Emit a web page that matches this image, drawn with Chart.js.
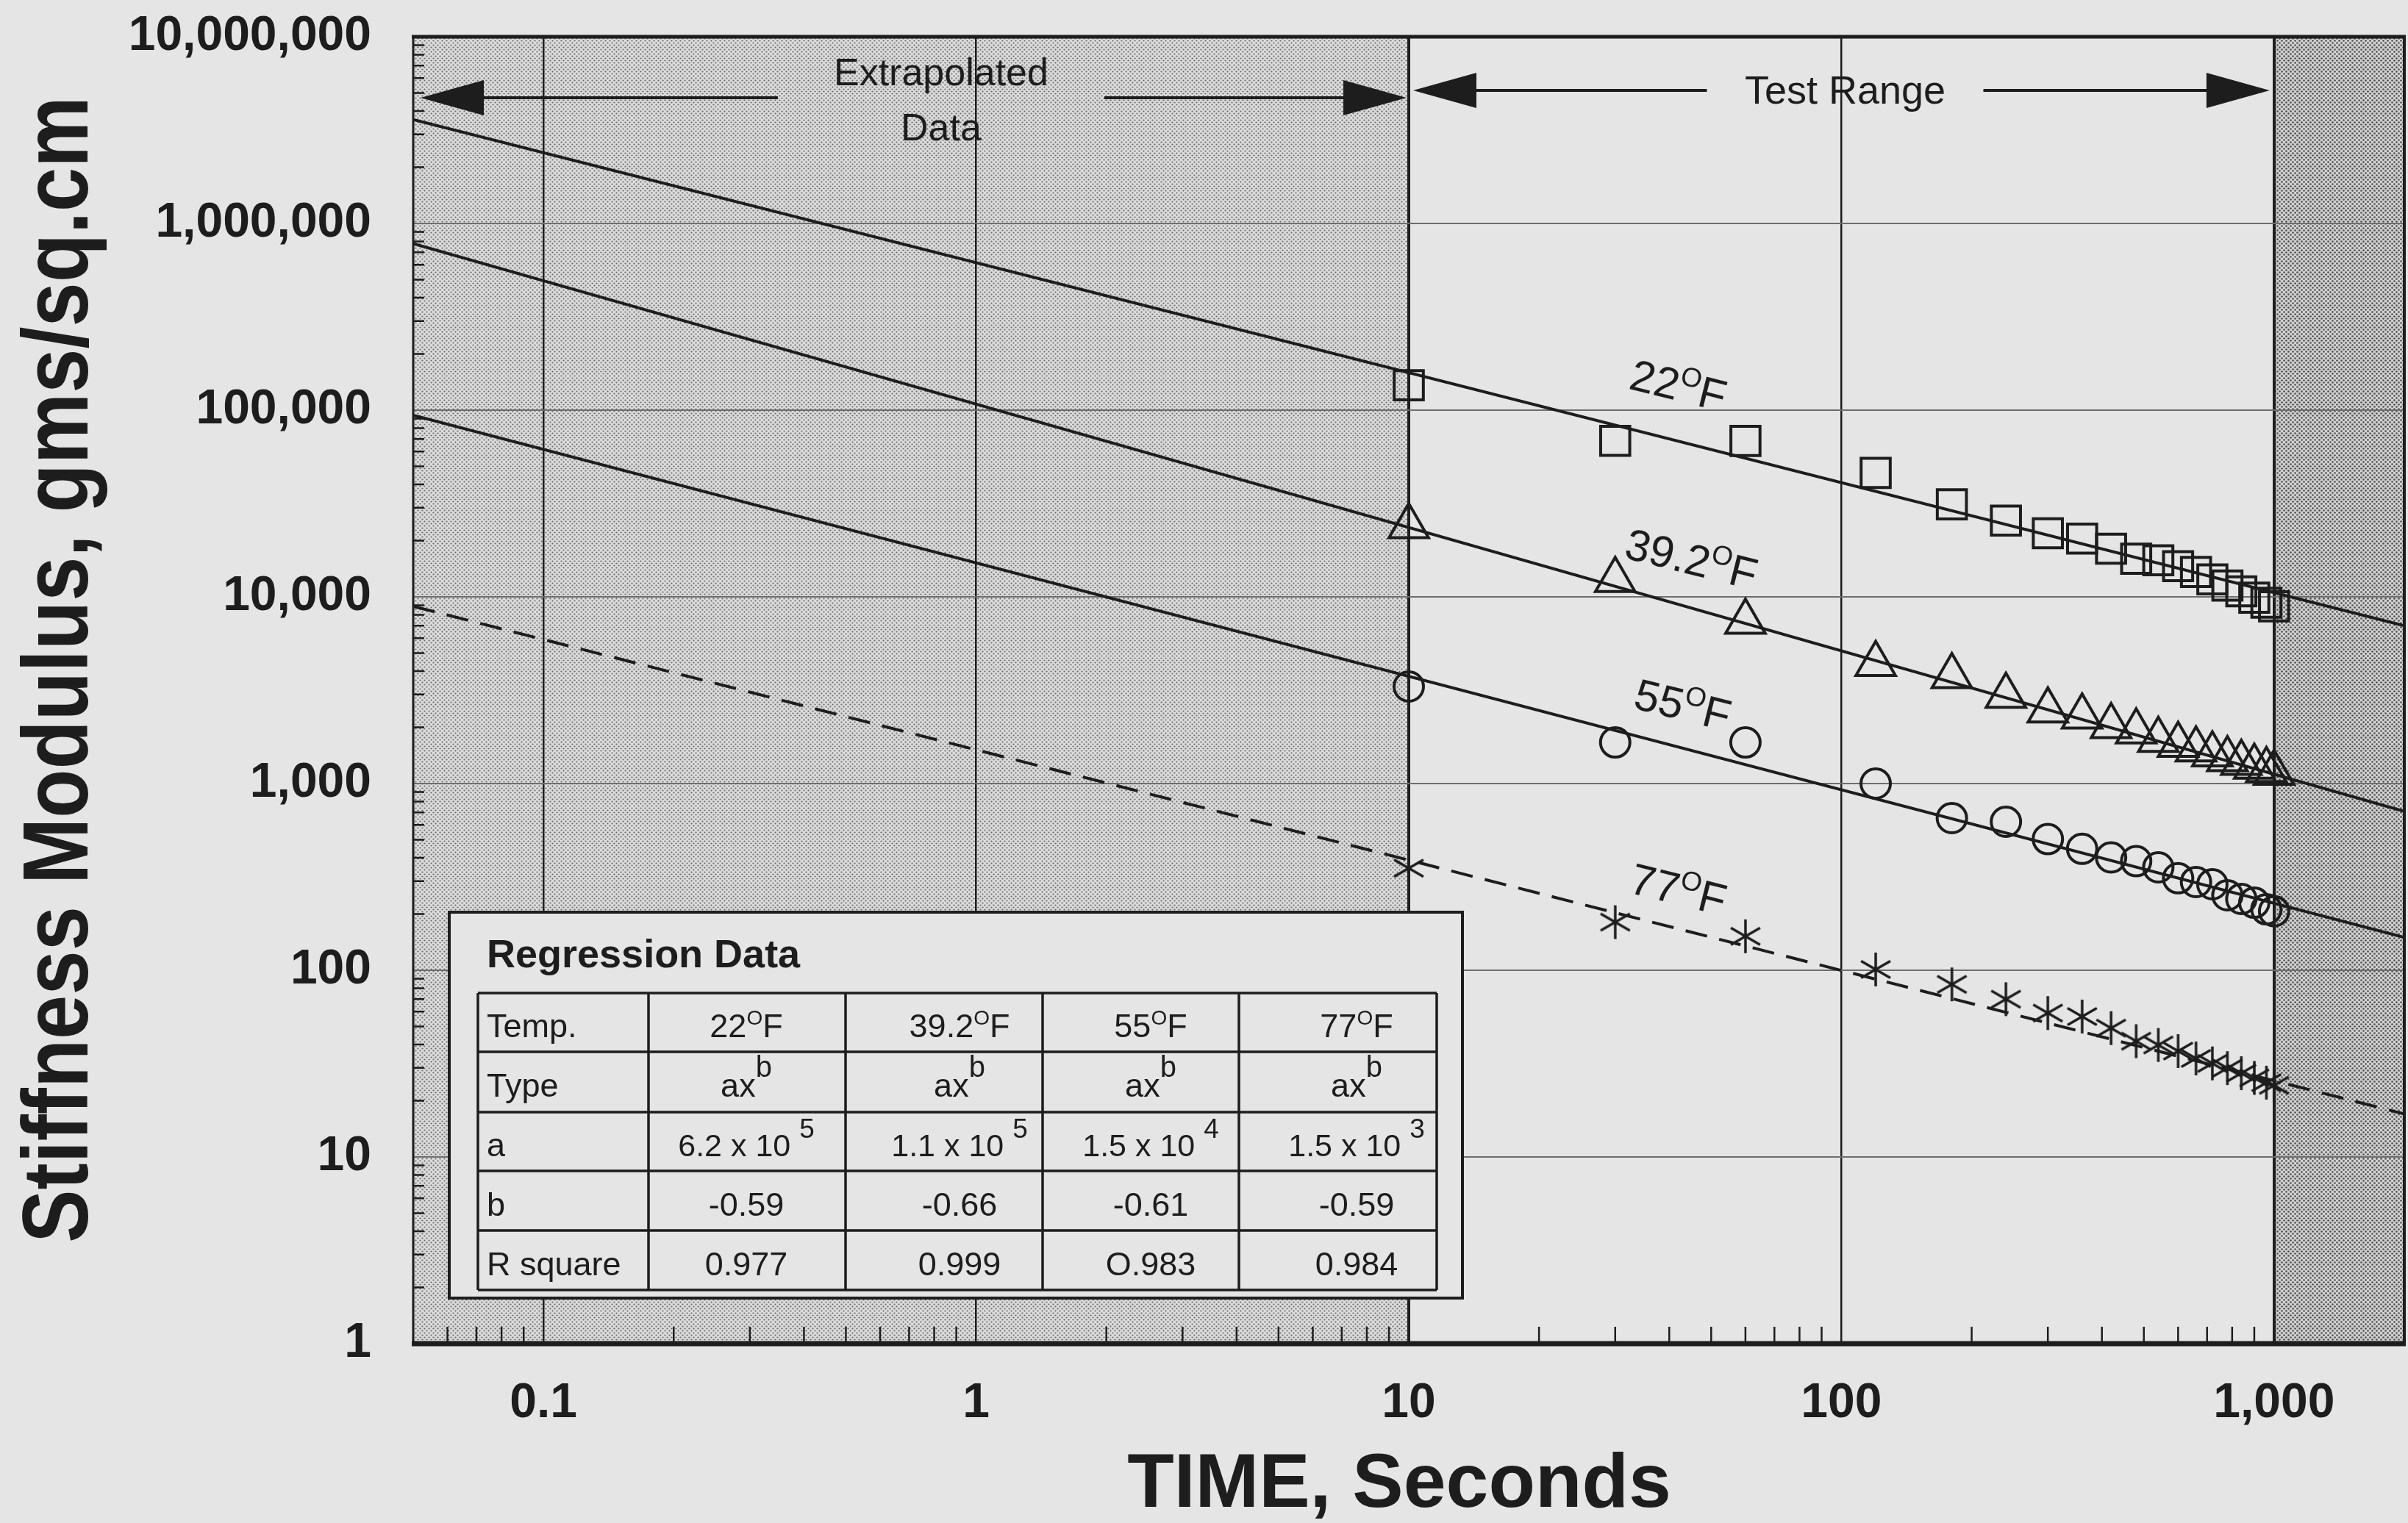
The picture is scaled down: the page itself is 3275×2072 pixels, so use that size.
<!DOCTYPE html>
<html>
<head>
<meta charset="utf-8">
<script src="https://cdn.jsdelivr.net/npm/chart.js@4.4.1/dist/chart.umd.min.js"></script>
<style>
  html, body { margin: 0; padding: 0; background: #e5e5e5; }
  #wrap { width: 3275px; height: 2072px; }
</style>
</head>
<body>
<div id="wrap"><canvas id="chart" width="3275" height="2072"></canvas></div>
<script>
// stiffness modulus vs time

const FONT = "'Liberation Sans', Arial, Helvetica, sans-serif";
const INK = '#1d1d1d';
const PAPER = '#e5e5e5';

// axes
const xTickVals = [0.1, 1, 10, 100, 1000];
const xTickLabels = ['0.1', '1', '10', '100', '1,000'];
const yTickVals = [1, 10, 100, 1000, 1e4, 1e5, 1e6, 1e7];
const yTickLabels = ['1', '10', '100', '1,000', '10,000', '100,000', '1,000,000', '10,000,000'];

// measured points (seconds, gms/sq.cm)
const times = [10, 30, 60, 120, 180, 240, 300, 360, 420, 480, 540, 600, 660, 720, 780, 840, 900, 960, 1000];
const s22 = [136000, 68500, 68400, 46100, 31300, 25600, 21900, 20500, 18100, 16000, 15700, 14600, 13600, 12400, 11500, 10700, 9900, 9300, 8900];
const s39 = [23900, 12300, 7340, 4360, 3760, 2950, 2460, 2280, 2030, 1900, 1710, 1610, 1520, 1430, 1350, 1290, 1230, 1180, 1140];
const s55 = [3310, 1660, 1660, 1000, 653, 624, 504, 447, 402, 384, 356, 311, 297, 289, 252, 241, 230, 212, 207];
const s77 = [352, 181, 152, 101, 84, 70, 59, 56.5, 49, 41.7, 39.8, 36.9, 33.7, 31.7, 29.9, 28.1, 26.5, 25.0, 24.2];

// regression lines, end values read at the plot edges
const fitX = [0.05, 2000];
const fit22 = [3.6e6, 7.0e3];
const fit39 = [7.8e5, 710];
const fit55 = [9.4e4, 150];
const fit77 = [8.9e3, 17];

// regression table
const tempLabels = ['22', '39.2', '55', '77'];
const regA = ['6.2', '1.1', '1.5', '1.5'];
const regAExp = ['5', '5', '4', '3'];
const regB = ['-0.59', '-0.66', '-0.61', '-0.59'];
const regR2 = ['0.977', '0.999', 'O.983', '0.984'];

const pts = (xs, ys) => xs.map((x, i) => ({ x, y: ys[i] }));

// 6-ray asterisk marker
function asteriskMarker(r, lw) {
  const c = document.createElement('canvas');
  c.width = c.height = 2 * r + 4;
  const g = c.getContext('2d');
  g.strokeStyle = INK; g.lineWidth = lw; g.lineCap = 'butt';
  const cx = r + 2, cy = r + 2;
  for (let k = 0; k < 3; k++) {
    const a = Math.PI / 2 + k * Math.PI / 3;
    g.beginPath();
    g.moveTo(cx + Math.cos(a) * r, cy + Math.sin(a) * r);
    g.lineTo(cx - Math.cos(a) * r, cy - Math.sin(a) * r);
    g.stroke();
  }
  return c;
}

function dotPattern(ctx, size, r, base, dot) {
  const c = document.createElement('canvas');
  c.width = c.height = size;
  const g = c.getContext('2d');
  g.fillStyle = base; g.fillRect(0, 0, size, size);
  g.fillStyle = dot;
  [[size / 4, size / 4], [3 * size / 4, 3 * size / 4]].forEach(([x, y]) => {
    g.beginPath(); g.arc(x, y, r, 0, Math.PI * 2); g.fill();
  });
  return ctx.createPattern(c, 'repeat');
}

// text made of pieces: {t, size, dy, bold}
function partsWidth(ctx, parts) {
  return parts.reduce((w, p) => {
    ctx.font = (p.bold ? 'bold ' : '') + p.size + 'px ' + FONT;
    return w + ctx.measureText(p.t).width + (p.gap || 0);
  }, 0);
}
function drawParts(ctx, parts, x, y, align) {
  let cx = x;
  if (align === 'center') cx = x - partsWidth(ctx, parts) / 2;
  ctx.textAlign = 'left';
  ctx.textBaseline = 'alphabetic';
  parts.forEach(p => {
    ctx.font = (p.bold ? 'bold ' : '') + p.size + 'px ' + FONT;
    ctx.fillText(p.t, cx, y + (p.dy || 0));
    cx += ctx.measureText(p.t).width + (p.gap || 0);
  });
}
const degParts = (t, size) => [
  { t: t, size: size },
  { t: 'O', size: Math.round(size * 0.62), dy: -Math.round(size * 0.38) },
  { t: 'F', size: size }
];

function arrowHead(ctx, tipX, y, dir, len, half) {
  ctx.beginPath();
  ctx.moveTo(tipX, y);
  ctx.lineTo(tipX - dir * len, y - half);
  ctx.lineTo(tipX - dir * len, y + half);
  ctx.closePath();
  ctx.fill();
}
function rangeArrow(ctx, x1, x2, y, cx, halfGap) {
  const len = 86, half = 24;
  ctx.lineWidth = 4;
  ctx.beginPath();
  ctx.moveTo(x1 + len - 4, y); ctx.lineTo(cx - halfGap, y);
  ctx.moveTo(cx + halfGap, y); ctx.lineTo(x2 - len + 4, y);
  ctx.stroke();
  arrowHead(ctx, x1, y, -1, len, half);
  arrowHead(ctx, x2, y, 1, len, half);
}

function drawTable(chart) {
  const ctx = chart.ctx;
  ctx.save();
  // outer box
  ctx.fillStyle = PAPER;
  ctx.fillRect(611, 1241, 1378, 525);
  ctx.strokeStyle = INK; ctx.lineWidth = 4;
  ctx.strokeRect(611, 1241, 1378, 525);
  ctx.fillStyle = INK;
  drawParts(ctx, [{ t: 'Regression Data', size: 54, bold: true }], 662, 1316, 'left');

  const cols = [650, 882, 1150, 1418, 1685, 1954];
  const rows = [1351, 1431, 1513, 1593, 1674, 1755];
  ctx.lineWidth = 3.5;
  ctx.beginPath();
  rows.forEach(r => { ctx.moveTo(cols[0], r); ctx.lineTo(cols[5], r); });
  cols.forEach(c => { ctx.moveTo(c, rows[0]); ctx.lineTo(c, rows[5]); });
  ctx.stroke();

  const centers = [1015, 1305, 1565, 1845];
  const base = i => (rows[i] + rows[i + 1]) / 2 + 20;
  const F = 45;
  const heads = ['Temp.', 'Type', 'a', 'b', 'R square'];
  heads.forEach((h, i) => drawParts(ctx, [{ t: h, size: F }], 662, base(i), 'left'));
  tempLabels.forEach((t, j) => {
    drawParts(ctx, degParts(t, F), centers[j], base(0), 'center');
    drawParts(ctx, [{ t: 'ax', size: F }, { t: 'b', size: 40, dy: -27 }], centers[j], base(1), 'center');
    drawParts(ctx, [{ t: regA[j] + ' x 10', size: 43, gap: 12 }, { t: regAExp[j], size: 37, dy: -25 }], centers[j], base(2), 'center');
    drawParts(ctx, [{ t: regB[j], size: F }], centers[j], base(3), 'center');
    drawParts(ctx, [{ t: regR2[j], size: F }], centers[j], base(4), 'center');
  });
  ctx.restore();
}

// curve label spots (data units)
const curveLabelSpots = [
  { t: '22', x: 42, y: 136000 },
  { t: '39.2', x: 45, y: 16000 },
  { t: '55', x: 43, y: 2650 },
  { t: '77', x: 42, y: 272 }
];

const decor = {
  id: 'decor',
  beforeDraw(chart) {
    const { ctx, chartArea: a, scales: { x } } = chart;
    ctx.save();
    ctx.fillStyle = PAPER;
    ctx.fillRect(0, 0, chart.width, chart.height);
    const x10 = x.getPixelForValue(10), x1000 = x.getPixelForValue(1000);
    ctx.fillStyle = dotPattern(ctx, 6, 1.1, '#dadada', '#6a6a6a');
    ctx.fillRect(a.left, a.top, x10 - a.left, a.bottom - a.top);
    ctx.fillStyle = dotPattern(ctx, 6, 1.3, '#d0d0d0', '#4c4c4c');
    ctx.fillRect(x1000, a.top, a.right - x1000, a.bottom - a.top);
    ctx.restore();
  },
  afterDatasetsDraw(chart) {
    drawTable(chart);
  },
  afterDraw(chart) {
    const { ctx, chartArea: a, scales: { x, y } } = chart;
    ctx.save();
    ctx.strokeStyle = INK; ctx.fillStyle = INK;

    // minor ticks along bottom and left edges
    ctx.lineWidth = 2.5;
    ctx.beginPath();
    for (let d = 0.01; d < 5000; d *= 10) {
      for (let m = 2; m <= 9; m++) {
        const v = d * m;
        if (v <= x.min || v >= x.max) continue;
        const px = x.getPixelForValue(v);
        ctx.moveTo(px, a.bottom); ctx.lineTo(px, a.bottom - 23);
      }
    }
    for (let d = 1; d < 1e7; d *= 10) {
      for (let m = 2; m <= 9; m++) {
        const py = y.getPixelForValue(d * m);
        ctx.moveTo(a.left, py); ctx.lineTo(a.left + 15, py);
      }
    }
    ctx.stroke();

    // frame
    ctx.lineWidth = 5;
    ctx.beginPath(); ctx.moveTo(a.left - 2, a.top); ctx.lineTo(a.right + 2, a.top); ctx.stroke();
    ctx.lineWidth = 7;
    ctx.beginPath(); ctx.moveTo(a.left - 2, a.bottom); ctx.lineTo(a.right + 2, a.bottom); ctx.stroke();
    ctx.lineWidth = 3;
    ctx.beginPath(); ctx.moveTo(a.left, a.top); ctx.lineTo(a.left, a.bottom); ctx.stroke();
    ctx.lineWidth = 4;
    ctx.beginPath(); ctx.moveTo(a.right, a.top); ctx.lineTo(a.right, a.bottom); ctx.stroke();

    // range arrows
    const x10 = x.getPixelForValue(10), x1000 = x.getPixelForValue(1000);
    rangeArrow(ctx, a.left + 10, x10 - 3, a.top + 83, x.getPixelForValue(0.83), 222);
    rangeArrow(ctx, x10 + 6, x1000 - 6, a.top + 73, x.getPixelForValue(102), 188);
    ctx.textAlign = 'center'; ctx.textBaseline = 'middle';
    ctx.font = '52px ' + FONT;
    ctx.fillText('Extrapolated', x.getPixelForValue(0.83), a.top + 52);
    ctx.fillText('Data', x.getPixelForValue(0.83), a.top + 127);
    ctx.font = '54px ' + FONT;
    ctx.fillText('Test Range', x.getPixelForValue(102), a.top + 76);

    // curve labels, tilted with the lines
    curveLabelSpots.forEach(s => {
      ctx.save();
      ctx.translate(x.getPixelForValue(s.x), y.getPixelForValue(s.y));
      ctx.rotate(14 * Math.PI / 180);
      drawParts(ctx, degParts(s.t, 60), 0, 21, 'center');
      ctx.restore();
    });

    // axis titles
    ctx.textAlign = 'center'; ctx.textBaseline = 'middle';
    ctx.save();
    ctx.translate(84, 911);
    ctx.rotate(-Math.PI / 2);
    ctx.scale(0.86, 1);
    ctx.font = 'bold 126px ' + FONT;
    ctx.fillText('Stiffness Modulus, gms/sq.cm', 0, 0);
    ctx.restore();
    ctx.textBaseline = 'alphabetic';
    ctx.font = 'bold 104px ' + FONT;
    ctx.fillText('TIME, Seconds', 1903, 2050);
    ctx.restore();
  }
};

const lineSet = (data, dash) => ({
  data, showLine: true, borderColor: INK, borderWidth: 4, borderDash: dash || [],
  pointRadius: 0, pointHoverRadius: 0, fill: false
});
const markSet = (data, style, r) => ({
  data, showLine: false, pointStyle: style, pointRadius: r, pointHoverRadius: r,
  borderColor: INK, borderWidth: 4, backgroundColor: 'rgba(0,0,0,0)'
});

new Chart(document.getElementById('chart'), {
  type: 'scatter',
  data: {
    datasets: [
      lineSet(pts(fitX, fit22)),
      lineSet(pts(fitX, fit39)),
      lineSet(pts(fitX, fit55)),
      lineSet(pts(fitX, fit77), [30, 17]),
      markSet(pts(times, s22), 'rect', 28),
      markSet(pts(times, s39), 'triangle', 31),
      markSet(pts(times, s55), 'circle', 20),
      markSet(pts(times, s77), asteriskMarker(23, 3.5), 23)
    ]
  },
  options: {
    responsive: false,
    devicePixelRatio: 1,
    animation: false,
    layout: { autoPadding: false, padding: { top: 50, right: 5, left: 0, bottom: 0 } },
    plugins: { legend: { display: false }, tooltip: { enabled: false } },
    scales: {
      x: {
        type: 'logarithmic', min: 0.05, max: 2000,
        afterBuildTicks: s => { s.ticks = xTickVals.map(v => ({ value: v })); },
        afterFit: s => { s.height = 244; s.paddingLeft = 0; s.paddingRight = 0; },
        ticks: {
          callback: v => xTickLabels[xTickVals.indexOf(v)],
          font: { family: FONT, size: 66, weight: 'bold' }, color: INK,
          padding: 42, autoSkip: false, maxRotation: 0
        },
        grid: {
          color: INK, drawTicks: false,
          lineWidth: c => (c.tick && (c.tick.value === 10 || c.tick.value === 1000)) ? 4 : 2.5
        },
        border: { display: false }
      },
      y: {
        type: 'logarithmic', min: 1, max: 1e7,
        afterBuildTicks: s => { s.ticks = yTickVals.map(v => ({ value: v })); },
        afterFit: s => { s.width = 562; s.paddingTop = 0; s.paddingBottom = 0; },
        ticks: {
          callback: v => yTickLabels[yTickVals.indexOf(v)],
          font: { family: FONT, size: 66, weight: 'bold' }, color: INK,
          padding: 57, autoSkip: false
        },
        grid: { color: '#6e6e6e', lineWidth: 2, drawTicks: false },
        border: { display: false }
      }
    }
  },
  plugins: [decor]
});
</script>
</body>
</html>
